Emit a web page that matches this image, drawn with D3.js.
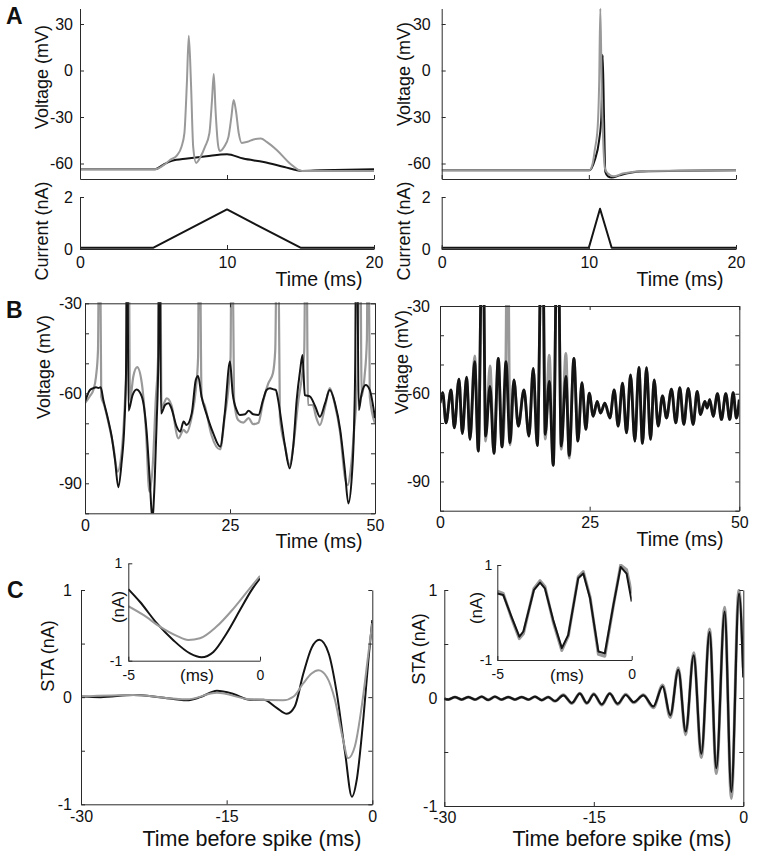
<!DOCTYPE html>
<html><head><meta charset="utf-8">
<script src="https://cdn.jsdelivr.net/npm/d3@7"></script>
<style>
body{margin:0;background:#fff;}
svg text{font-family:"Liberation Sans",Arial,Helvetica,sans-serif;fill:#111;}
</style></head><body>
<svg id="fig" width="757" height="854"></svg>
<script>
// ---------------- DATA ----------------
// Panel A (time ms, voltage mV / current nA)
const aLeftGray = [[0,-63.7],[5.1,-63.7],[5.68,-61.1],[6.1,-57.9],[6.6,-54.7],[6.9,-49.3],[7.1,-40.6],[7.27,-8.2],[7.4,22.4],[7.55,-8.2],[7.7,-49.3],[7.9,-59.6],[8.2,-55.7],[8.5,-49.3],[8.8,-40.6],[8.98,-19],[9.1,-2.2],[9.22,-25.5],[9.38,-47.1],[9.5,-51.9],[9.8,-49.3],[10.1,-42.8],[10.3,-29.8],[10.45,-19],[10.6,-25.5],[10.8,-40.6],[11.0,-46.7],[11.4,-46],[11.8,-44.5],[12.3,-43.9],[12.7,-46],[13.4,-51.4],[14.3,-60.1],[15.1,-64.8],[16.4,-64.8],[20,-64.8]];
const aLeftBlack = [[0,-63.7],[5.1,-63.7],[5.68,-60.7],[6.25,-58.3],[7.3,-56.8],[8.6,-55.3],[10,-54],[11.1,-56.8],[12.5,-59],[13.9,-62.2],[15.1,-64.8],[16.4,-64.4],[20,-63.7]];
const aLeftCurrent = [[0,0.05],[5,0.05],[10,1.52],[15,0.05],[20,0.05]];
const aRightGray = [[0,-64.4],[10.03,-64.4],[10.26,-60],[10.4,-51.4],[10.6,-36.3],[10.7,-8.2],[10.78,40],[10.87,-8.2],[11.0,-51.4],[11.1,-63.3],[11.3,-66.5],[11.7,-68.3],[12.3,-66.5],[13.9,-64.8],[20,-64.4]];
const aRightBlack = [[0,-64.4],[10.03,-64.4],[10.4,-57.9],[10.7,-44.9],[10.85,-29.8],[10.94,10.1],[11.03,-29.8],[11.12,-65.4],[11.3,-68.3],[11.55,-69.1],[12.1,-67.6],[13.5,-65.2],[20,-64.4]];
const aRightCurrent = [[0,0.05],[10,0.05],[10.76,1.55],[11.55,0.05],[20,0.05]];

// Panel B (time ms, voltage mV)
const bLeftBlack = [[0,-62.8],[0.86,-58.9],[1.44,-58.3],[1.9,-58.0],[2.3,-58.2],[2.7,-58.0],[3.16,-62.2],[4.0,-68.9],[4.6,-74.4],[5.17,-82.2],[5.75,-91.3],[6.3,-83.3],[6.8,-70],[7.07,-53.3],[7.25,20],[7.5,-65.8],[8.2,-60.6],[8.9,-58.7],[9.8,-61.1],[10.6,-72.2],[11.2,-90],[11.6,-102],[12.0,-90],[12.35,-70],[12.65,-47.8],[12.8,20],[13.1,-66.7],[13.8,-63.9],[14.4,-63.3],[14.9,-65],[15.8,-71.1],[16.4,-72.8],[17.0,-69.4],[17.5,-70.6],[18.4,-66.7],[19.1,-55.6],[19.5,-54.2],[20.1,-61.1],[21.0,-67.2],[22.1,-73.3],[23.3,-77.8],[24.1,-66.7],[25.0,-49.4],[25.46,-60],[26.15,-65.6],[26.7,-67.2],[27.6,-67],[28.2,-65.8],[29.0,-67],[29.9,-67.2],[30.7,-62.2],[31.3,-58.9],[31.9,-58.3],[32.5,-58.7],[32.9,-58.9],[33.3,-62.2],[33.9,-70],[34.5,-77.8],[35.3,-85],[35.9,-77.8],[36.5,-62.2],[37.1,-52.2],[37.5,-47.2],[37.9,-60.6],[38.8,-61.1],[39.7,-64.4],[40.5,-67.8],[41.4,-63.3],[42.2,-58.9],[43.1,-63.3],[44.0,-72.2],[44.8,-85.6],[45.4,-96.7],[46.0,-87.8],[46.4,-70],[46.6,-47.8],[46.8,20],[47.2,-65.6],[47.7,-60],[48.4,-57.2],[49.1,-58.9],[50.0,-68.3]];
const bLeftGray = [[0,-63.3],[0.86,-60.9],[1.44,-58.9],[1.9,-54.4],[2.24,-45.6],[2.5,20],[2.8,-61.1],[3.3,-63.9],[4.0,-69.4],[4.9,-77.8],[5.6,-86.1],[6.3,-80],[6.9,-62.2],[7.2,-47.8],[7.47,20],[7.76,-62.2],[8.33,-54.4],[9.0,-51.3],[9.8,-56.7],[10.5,-72.2],[11.1,-92.8],[11.7,-83.3],[12.2,-62.2],[12.6,-47.8],[12.9,20],[13.2,-64.7],[14.1,-61.7],[14.9,-63.9],[16.1,-75],[17.0,-72.2],[17.5,-73.1],[18.4,-67.8],[19.1,-58.9],[19.5,-47.8],[19.7,20],[20.1,-61.1],[20.7,-64.4],[21.8,-73.9],[23.3,-78.7],[24.1,-67.8],[24.7,-58.9],[25.1,-47.8],[25.3,20],[25.7,-62.2],[26.4,-68.9],[27.3,-69.8],[28.2,-68.3],[29.0,-70.3],[29.9,-69.8],[30.7,-62.8],[31.6,-56.7],[32.4,-53.3],[32.8,-45.6],[33.2,20],[33.6,-67.8],[34.5,-77.8],[35.3,-84.2],[35.9,-77.8],[36.8,-62.2],[37.4,-54.4],[37.8,-45.6],[38.1,20],[38.45,-63.9],[39.25,-63.9],[39.9,-68.3],[40.5,-70.6],[41.4,-64.4],[42.2,-58.3],[43.1,-63.9],[44.0,-73.3],[44.8,-87.8],[45.3,-90.6],[45.8,-85.6],[46.4,-72.2],[47.0,-53.3],[47.4,20],[47.7,-61.1],[48.2,-54.4],[48.6,-42.2],[48.8,20],[49.1,-61.1],[50.0,-70]];
const bRightBlack = [[0,-63.2],[0.45,-59.6],[1.0,-70.0],[1.84,-58.7],[2.39,-71.7],[3.17,-55.0],[3.73,-73.6],[4.45,-54.3],[5.01,-75.6],[5.79,-49.0],[6.4,-79.6],[7.12,10],[7.62,-74.5],[8.35,-57.5],[9.01,-80.4],[9.74,-47.9],[10.35,-78.2],[11.02,-49.0],[11.69,-76.8],[12.35,-55.3],[13.08,-71.1],[14.02,-58.7],[14.86,-74.5],[15.58,-51.3],[16.25,-77.7],[17.08,10],[17.58,-73.9],[18.25,-55.8],[18.92,-84.5],[19.64,10],[20.26,-77.9],[21.03,-54.1],[21.59,-81.1],[22.37,-47.9],[23.04,-76.2],[23.71,-56.2],[24.37,-72.2],[24.93,-59.8],[25.6,-67.7],[26.26,-62.6],[26.82,-66.6],[27.54,-63.2],[28.38,-68.3],[29.1,-58.7],[29.77,-71.1],[30.49,-56.4],[31.16,-73.4],[31.83,-53.6],[32.55,-76.2],[33.22,-51.0],[33.83,-77.0],[34.5,-51.1],[35.17,-75.6],[35.78,-55.3],[36.45,-71.1],[37.17,-60.7],[37.84,-68.3],[38.67,-58.4],[39.4,-70.0],[40.06,-57.9],[40.73,-70.5],[41.46,-58.2],[42.29,-70.5],[42.96,-59.2],[43.51,-67.1],[44.24,-62.6],[44.63,-64.9],[45.07,-62.0],[45.63,-67.7],[46.35,-60.0],[47.02,-68.8],[47.74,-60.0],[48.41,-68.8],[48.97,-59.6],[49.52,-68.3],[50.0,-62.0]];
const bRightGray = [[0,-63.2],[0.45,-59.6],[1.0,-70.0],[1.84,-58.7],[2.39,-71.7],[3.17,-55.0],[3.73,-73.6],[4.45,-54.3],[5.01,-75.6],[5.79,-47.1],[6.4,-79.6],[7.12,10],[7.62,-76.2],[8.35,-50.5],[9.01,-80.4],[9.74,-47.9],[10.35,-78.2],[11.0,-49.0],[11.25,10],[11.72,-77.5],[12.35,-55.3],[13.08,-71.1],[14.02,-58.7],[14.86,-74.5],[15.58,-51.3],[16.25,-77.7],[17.08,10],[17.58,-75.5],[18.25,-46.8],[18.92,-84.5],[19.64,10],[20.26,-79.0],[21.03,-46.2],[21.59,-82.0],[22.37,-47.9],[23.04,-76.2],[23.71,-56.2],[24.37,-72.2],[24.93,-59.8],[25.6,-67.7],[26.26,-62.6],[26.82,-66.6],[27.54,-63.2],[28.38,-68.3],[29.1,-58.7],[29.77,-71.1],[30.49,-56.4],[31.16,-73.4],[31.83,-53.6],[32.55,-76.2],[33.22,-51.0],[33.83,-77.0],[34.5,-51.1],[35.17,-75.6],[35.78,-55.3],[36.45,-71.1],[37.17,-60.7],[37.84,-68.3],[38.67,-58.4],[39.4,-70.0],[40.06,-57.9],[40.73,-70.5],[41.46,-58.2],[42.29,-70.5],[42.96,-59.2],[43.51,-67.1],[44.24,-62.6],[44.63,-64.9],[45.07,-62.0],[45.63,-67.7],[46.35,-60.0],[47.02,-68.8],[47.74,-60.0],[48.41,-68.8],[48.97,-59.6],[49.52,-68.3],[50.0,-62.0]];

// Panel C (time before spike ms, STA nA)
const cLeftBlack = [[-30,0.006],[-28,0],[-24.6,0.02],[-21.9,0],[-19.1,-0.03],[-17.7,0],[-16.0,0.06],[-14.3,0.03],[-12.6,-0.025],[-11.2,-0.025],[-9.85,-0.1],[-8.8,-0.155],[-8.0,-0.09],[-7.1,0.22],[-6.25,0.46],[-5.45,0.535],[-4.5,0.41],[-3.66,0.04],[-2.8,-0.52],[-2.1,-0.93],[-1.6,-0.77],[-0.9,-0.18],[-0.4,0.35],[0,0.72]];
const cLeftGray = [[-30,0.006],[-24.6,0.02],[-19.1,-0.02],[-16.0,0.04],[-12.6,-0.02],[-9.2,-0.03],[-8.1,0.006],[-7.1,0.13],[-6.25,0.22],[-5.55,0.25],[-4.7,0.19],[-3.85,-0.025],[-3.0,-0.4],[-2.5,-0.57],[-1.8,-0.46],[-0.9,0.04],[-0.4,0.41],[0,0.69]];
const cLeftInsetBlack = [[-5,0.47],[-4.56,0.21],[-3.92,-0.23],[-3.29,-0.58],[-2.66,-0.85],[-2.22,-0.93],[-1.77,-0.82],[-1.27,-0.44],[-0.76,0.04],[-0.32,0.45],[0,0.69]];
const cLeftInsetGray = [[-5,0.12],[-4.43,-0.06],[-3.8,-0.3],[-3.16,-0.49],[-2.72,-0.575],[-2.28,-0.54],[-1.65,-0.3],[-1.0,0.075],[-0.38,0.49],[0,0.74]];
const cRightBlack = [[-30,-0.006],[-29.6,-0.015],[-28.93,0.009],[-28.26,-0.015],[-27.59,0.009],[-26.92,-0.015],[-26.25,0.012],[-25.59,-0.018],[-24.92,0.012],[-24.25,-0.015],[-23.58,0.009],[-22.91,-0.015],[-22.24,0.009],[-21.57,-0.015],[-20.9,0.012],[-20.23,-0.02],[-19.57,0.009],[-18.9,-0.028],[-18.06,0.025],[-17.2,-0.046],[-16.4,0.04],[-15.7,-0.046],[-15.0,0.034],[-14.2,-0.059],[-13.4,0.04],[-12.6,-0.052],[-11.8,0.028],[-11.0,-0.037],[-10.03,0.025],[-9.03,-0.077],[-8.09,0.108],[-7.33,-0.16],[-6.52,0.26],[-5.78,-0.31],[-4.98,0.395],[-4.21,-0.515],[-3.38,0.61],[-2.71,-0.65],[-1.87,0.80],[-1.2,-0.87],[-0.43,0.966],[0,0.19]];
const cRightGray = [[-30,-0.006],[-29.6,-0.015],[-28.93,0.009],[-28.26,-0.015],[-27.59,0.009],[-26.92,-0.015],[-26.25,0.012],[-25.59,-0.018],[-24.92,0.012],[-24.25,-0.015],[-23.58,0.009],[-22.91,-0.015],[-22.24,0.009],[-21.57,-0.015],[-20.9,0.012],[-20.23,-0.02],[-19.57,0.009],[-18.9,-0.03],[-18.06,0.03],[-17.2,-0.05],[-16.4,0.045],[-15.7,-0.05],[-15.0,0.04],[-14.2,-0.065],[-13.4,0.045],[-12.6,-0.06],[-11.8,0.035],[-11.0,-0.045],[-10.03,0.03],[-9.03,-0.09],[-8.09,0.12],[-7.33,-0.18],[-6.52,0.28],[-5.78,-0.34],[-4.98,0.42],[-4.21,-0.55],[-3.38,0.64],[-2.71,-0.7],[-1.87,0.84],[-1.2,-0.93],[-0.45,1.0],[0,0.28]];
const cRightInsetBlack = [[-5,0.40],[-4.78,0.37],[-4.47,-0.09],[-4.18,-0.51],[-4.03,-0.40],[-3.64,0.47],[-3.41,0.63],[-3.23,0.51],[-2.92,-0.16],[-2.6,-0.75],[-2.36,-0.47],[-1.99,0.72],[-1.8,0.82],[-1.55,0.30],[-1.24,-0.82],[-1.0,-0.86],[-0.68,0.16],[-0.41,0.96],[-0.19,0.82],[0,0.23]];
const cRightInsetGray = [[-5,0.45],[-4.78,0.40],[-4.47,-0.12],[-4.18,-0.55],[-4.03,-0.45],[-3.64,0.5],[-3.41,0.67],[-3.23,0.55],[-2.92,-0.2],[-2.6,-0.8],[-2.36,-0.5],[-1.99,0.75],[-1.8,0.86],[-1.55,0.33],[-1.24,-0.88],[-1.0,-0.92],[-0.68,0.15],[-0.41,1.0],[-0.19,0.9],[0,0.4]];

// tick values
const aVoltTicks = [-60,-30,0,30];
const aCurrTicks = [0,2];
const aTimeTicks = [0,10,20];
const bVoltTicks = [-100,-90,-80,-70,-60,-50,-40,-30];
const bVoltLabels = [-90,-60,-30];
const bTimeTicks = [0,25,50];
const cStaTicks = [-1,-0.5,0,0.5,1];
const cStaLabels = [-1,0,1];
const cTimeTicks = [-30,-15,0];
const insetStaTicks = [-1,1];
const insetTimeTicks = [-5,0];

// ---------------- DRAWING ----------------
const svg = d3.select('#fig');
const BLACK = '#141414', GRAY = '#999999', AX = '#2a2a2a';
let clipN = 0;

function styleAxis(g, fs){
  g.attr('font-family', null).attr('font-size', fs);
  g.selectAll('.domain').attr('stroke', AX).attr('stroke-width', 1);
  g.selectAll('.tick line').attr('stroke', AX).attr('stroke-width', 1);
  g.selectAll('.tick text').attr('fill', '#111').attr('font-size', fs);
}
function fmt(labels){ return d => labels.includes(d) ? String(d) : ''; }

function axis(kind, scale, pos, ticks, labels, fs, pad){
  let ax;
  if (kind==='left') ax = d3.axisLeft(scale);
  else if (kind==='right') ax = d3.axisRight(scale);
  else if (kind==='bottom') ax = d3.axisBottom(scale);
  else ax = d3.axisTop(scale);
  ax.tickValues(ticks).tickFormat(fmt(labels)).tickSizeInner(-4).tickSizeOuter(0).tickPadding(pad||6);
  const tr = (kind==='left'||kind==='right') ? `translate(${pos},0)` : `translate(0,${pos})`;
  const g = svg.append('g').attr('transform', tr).call(ax);
  styleAxis(g, fs);
  return g;
}

function clip(x, y){
  const id = 'clip' + (clipN++);
  svg.append('clipPath').attr('id', id).append('rect')
    .attr('x', x.range()[0]).attr('y', Math.min(...y.range()) - 1)
    .attr('width', x.range()[1] - x.range()[0]).attr('height', Math.abs(y.range()[0]-y.range()[1]) + 1);
  return id;
}

function line(data, x, y, color, w, curve, clipId){
  const gen = d3.line().x(d => x(d[0])).y(d => y(d[1])).curve(curve || d3.curveMonotoneX);
  svg.append('path').datum(data).attr('d', gen).attr('fill', 'none')
    .attr('stroke', color).attr('stroke-width', w).attr('stroke-linejoin', 'round')
    .attr('clip-path', clipId ? `url(#${clipId})` : null);
}

function text(str, x, y, fs, opts={}){
  const t = svg.append('text').text(str).attr('x', x).attr('y', y).attr('font-size', fs)
    .attr('text-anchor', opts.anchor || 'middle');
  if (opts.bold) t.attr('font-weight', 'bold');
  if (opts.rot) t.attr('transform', `rotate(-90,${x},${y})`).attr('dy', '0.35em');
  return t;
}

const TF = 16, LF = 18, XF = 19.5, CF = 21.5;

// ---- Panel A left ----
{
  const x = d3.scaleLinear([0,20],[80,374]);
  const y = d3.scaleLinear([-70,40],[179,8.5]);
  const yi = d3.scaleLinear([0,2],[249,197]);
  const c1 = clip(x, y);
  line(aLeftBlack, x, y, BLACK, 2, d3.curveMonotoneX, c1);
  line(aLeftGray, x, y, GRAY, 2, d3.curveMonotoneX, c1);
  axis('left', y, 80, aVoltTicks, aVoltTicks, TF, 7);
  axis('bottom', x, 179, aTimeTicks, [], TF);
  line(aLeftCurrent, x, yi, BLACK, 2, d3.curveLinear);
  axis('left', yi, 80, aCurrTicks, aCurrTicks, TF, 7);
  axis('bottom', x, 249, aTimeTicks, aTimeTicks, TF, 8);
  text('Voltage (mV)', 42, 77, LF, {rot:true});
  text('Current (nA)', 42, 231, LF, {rot:true});
  text('Time (ms)', 319, 286, XF);
}
// ---- Panel A right ----
{
  const x = d3.scaleLinear([0,20],[441.7,736]);
  const y = d3.scaleLinear([-70,40],[179,8.5]);
  const yi = d3.scaleLinear([0,2],[249,197]);
  const c1 = clip(x, y);
  line(aRightBlack, x, y, BLACK, 2, d3.curveMonotoneX, c1);
  line(aRightGray, x, y, GRAY, 2, d3.curveMonotoneX, c1);
  axis('left', y, 441.7, aVoltTicks, aVoltTicks, TF, 11);
  axis('bottom', x, 179, aTimeTicks, [], TF);
  line(aRightCurrent, x, yi, BLACK, 2, d3.curveLinear);
  axis('left', yi, 441.7, aCurrTicks, aCurrTicks, TF, 11);
  axis('bottom', x, 249, aTimeTicks, aTimeTicks, TF, 8);
  text('Voltage (mV)', 404, 74, LF, {rot:true});
  text('Current (nA)', 404, 231, LF, {rot:true});
  text('Time (ms)', 680, 286, XF);
}
// ---- Panel B left ----
{
  const x = d3.scaleLinear([0,50],[85,375]);
  const y = d3.scaleLinear([-100,-30],[513.3,303.3]);
  const c1 = clip(x, y);
  line(bLeftGray, x, y, GRAY, 2.2, d3.curveMonotoneX, c1);
  line(bLeftBlack, x, y, BLACK, 2, d3.curveMonotoneX, c1);
  axis('left', y, 85, bVoltTicks, bVoltLabels, TF, 3);
  axis('right', y, 375, bVoltTicks, [], TF);
  axis('top', x, 303.3, bTimeTicks, [], TF);
  axis('bottom', x, 513.3, bTimeTicks, bTimeTicks, TF, 6);
  text('Voltage (mV)', 44, 367, LF, {rot:true});
  text('Time (ms)', 319, 548, XF);
}
// ---- Panel B right ----
{
  const x = d3.scaleLinear([0,50],[440,739.3]);
  const y = d3.scaleLinear([-100,-30],[510.7,306]);
  const c1 = clip(x, y);
  line(bRightGray, x, y, GRAY, 2.8, d3.curveMonotoneX, c1);
  line(bRightBlack, x, y, BLACK, 2.8, d3.curveMonotoneX, c1);
  axis('left', y, 440, bVoltTicks, bVoltLabels, TF, 10);
  axis('right', y, 739.3, bVoltTicks, [], TF);
  axis('top', x, 306, bTimeTicks, [], TF);
  axis('bottom', x, 510.7, bTimeTicks, bTimeTicks, TF, 6);
  text('Voltage (mV)', 402, 362, LF, {rot:true});
  text('Time (ms)', 680, 546, XF);
}
// ---- Panel C left ----
{
  const x = d3.scaleLinear([-30,0],[81,372.3]);
  const y = d3.scaleLinear([-1,1],[804.3,590]);
  const c1 = clip(x, y);
  line(cLeftBlack, x, y, BLACK, 2, d3.curveMonotoneX, c1);
  line(cLeftGray, x, y, GRAY, 2, d3.curveMonotoneX, c1);
  axis('left', y, 81, cStaTicks, cStaLabels, TF, 9);
  axis('right', y, 372.3, cStaTicks, [], TF);
  axis('bottom', x, 804.3, cTimeTicks, cTimeTicks, TF, 6);
  text('STA (nA)', 48, 656, LF, {rot:true});
  text('Time before spike (ms)', 252, 846, CF);
  // inset
  const xi = d3.scaleLinear([-5,0],[128.3,260]);
  const yi = d3.scaleLinear([-1,1],[660.7,563.3]);
  const c2 = clip(xi, yi);
  line(cLeftInsetBlack, xi, yi, BLACK, 2, d3.curveMonotoneX, c2);
  line(cLeftInsetGray, xi, yi, GRAY, 2, d3.curveMonotoneX, c2);
  axis('left', yi, 128.3, insetStaTicks, insetStaTicks, 14, 6);
  axis('bottom', xi, 660.7, insetTimeTicks, insetTimeTicks, 14, 9);
  text('(nA)', 118, 607, 17, {rot:true});
  text('(ms)', 197, 681, 17);
}
// ---- Panel C right ----
{
  const x = d3.scaleLinear([-30,0],[444.3,743.3]);
  const y = d3.scaleLinear([-1,1],[806,590]);
  const c1 = clip(x, y);
  line(cRightGray, x, y, GRAY, 3, d3.curveMonotoneX, c1);
  line(cRightBlack, x, y, BLACK, 2.2, d3.curveMonotoneX, c1);
  axis('left', y, 444.3, cStaTicks, cStaLabels, TF, 7);
  axis('right', y, 743.3, cStaTicks, [], TF);
  axis('bottom', x, 806, cTimeTicks, cTimeTicks, TF, 6);
  text('STA (nA)', 419, 649, LF, {rot:true});
  text('Time before spike (ms)', 622, 846, CF);
  const xi = d3.scaleLinear([-5,0],[497.3,631.7]);
  const yi = d3.scaleLinear([-1,1],[660,565]);
  const c2 = clip(xi, yi);
  line(cRightInsetGray, xi, yi, GRAY, 3, d3.curveLinear, c2);
  line(cRightInsetBlack, xi, yi, BLACK, 2, d3.curveLinear, c2);
  axis('left', yi, 497.3, insetStaTicks, insetStaTicks, 14, 5);
  axis('bottom', xi, 660, insetTimeTicks, insetTimeTicks, 14, 9);
  text('(nA)', 476, 608, 17, {rot:true});
  text('(ms)', 567, 681, 17);
}
// panel letters
text('A', 6, 24, 23, {bold:true, anchor:'start'});
text('B', 6, 318, 23, {bold:true, anchor:'start'});
text('C', 7, 598, 23, {bold:true, anchor:'start'});
</script>
</body></html>
